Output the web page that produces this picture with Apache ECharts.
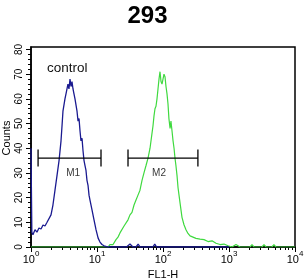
<!DOCTYPE html>
<html>
<head>
<meta charset="utf-8">
<script src="https://cdn.jsdelivr.net/npm/echarts@6/dist/echarts.min.js"></script>
<style>
html, body { margin: 0; padding: 0; background: #fff; }
#chart { width: 306px; height: 280px; }
</style>
</head>
<body>
<div id="chart"></div>
<script>
// control histogram (blue)
const controlX = [1, 1.03, 1.07, 1.15, 1.23, 1.32, 1.42, 1.52, 1.63, 1.75, 1.87, 2.01, 2.15, 2.31, 2.48,
  2.66, 2.85, 2.95, 3.05, 3.16, 3.27, 3.39, 3.51, 3.63, 3.76, 3.90, 4.04, 4.18, 4.33, 4.48,
  4.64, 4.81, 4.98, 5.16, 5.34, 5.53, 5.72, 5.93, 6.14, 6.36, 6.58, 6.81, 7.05, 7.31, 7.57,
  7.83, 8.40, 9.01, 9.66, 10.4, 11.1, 11.9, 12.8, 13.7, 14.7, 28, 31.6, 35, 39, 42,
  45, 70, 75, 80, 1000];
const controlY = [40, 6, 5, 7, 6, 7.7, 7.3, 8.9, 8.5, 10, 9.3, 13, 17, 23, 29,
  35, 43, 49, 55, 55, 60, 62, 64, 66, 64, 68, 65, 67, 64, 62,
  60, 60, 55, 51, 52, 47, 43, 44, 39, 35, 33, 31, 27, 25, 21,
  19, 15, 11, 7, 3.6, 2, 1, 0.5, 1, 0, 0, 1.2, 0, 0, 1.2,
  0, 0, 1.2, 0, 0];

// 293 sample histogram (green)
const sampleX = [1, 14.7, 15.7, 17.5, 19.4, 20.8, 22.3, 23.9, 25.7, 27.5, 29.5, 31.6, 33.9, 36.4, 39,
  41.8, 44.8, 48.1, 51.5, 55.3, 59.3, 63.6, 68.1, 70.5, 73, 75.6, 78.3, 81.1, 84, 87,
  90.1, 93.3, 96.6, 100, 103.5, 107.2, 111, 115, 119, 123, 128, 132, 137, 142, 147,
  152, 157, 163, 169, 181, 194, 208, 223, 239, 257, 285, 316, 364, 418, 481,
  553, 635, 731, 840, 965, 1110, 1276, 1468, 2080, 2230, 2390, 3160, 3390, 3640, 4470,
  4790, 5140, 10000];
const sampleY = [0, 0, 1, 1, 3, 4, 5.7, 6.5, 8.5, 9, 11, 13, 14, 17, 19,
  21, 23, 27, 30, 33, 36, 40, 46, 49, 53, 56, 57, 60, 64, 68,
  71, 67, 66, 68, 70, 69, 65, 62, 58, 52, 48, 51, 47, 43, 40,
  36, 33, 29, 24, 18, 12, 9, 7, 5.5, 4.5, 4, 3.5, 3.2, 3, 2.2,
  2.5, 1.5, 1, 1.2, 0.5, 0, 1, 0, 0, 1, 0, 0, 1, 0, 0,
  1, 0, 0];

// marker gates
const gateNames = ['M1', 'M2'];
const gateStart = [1.28, 29.5];
const gateEnd = [11.5, 338];
const gateLevel = 36;
const gateLabelX = [4.35, 87];
const gateLabelY = 30;

// ticks
const yTicks = [0, 10, 20, 30, 40, 50, 60, 70, 80];
const yMinor = [2, 4, 6, 8, 12, 14, 16, 18, 22, 24, 26, 28, 32, 34, 36, 38, 42, 44, 46, 48,
  52, 54, 56, 58, 62, 64, 66, 68, 72, 74, 76, 78];
const xMinor = [2, 3, 4, 5, 6, 7, 8, 9, 20, 30, 40, 50, 60, 70, 80, 90,
  200, 300, 400, 500, 600, 700, 800, 900, 2000, 3000, 4000, 5000, 6000, 7000, 8000, 9000];

const FONT = 'Liberation Sans, Arial, sans-serif';

const zip = (xs, ys) => xs.map((x, i) => [x, ys[i]]);

const gateSeries = gateNames.map((g, i) => ({
  name: g,
  type: 'line',
  data: [[gateStart[i], gateLevel], [gateEnd[i], gateLevel]],
  symbol: 'rect',
  symbolSize: [1.3, 17],
  showSymbol: true,
  itemStyle: { color: '#000' },
  lineStyle: { color: '#000', width: 1.3 },
  z: 4
}));

const chart = echarts.init(document.getElementById('chart'));
chart.setOption({
  animation: false,
  backgroundColor: '#fff',
  grid: {
    left: 31, right: 11, top: 47, bottom: 33,
    show: true, borderColor: '#000', borderWidth: 1.5,
    outerBoundsMode: 'none'
  },
  xAxis: [
    {
      type: 'log', logBase: 10, min: 1, max: 10000, position: 'bottom',
      axisLine: { lineStyle: { color: '#000', width: 1.5 } },
      axisTick: { length: 5, lineStyle: { color: '#000' } },
      splitLine: { show: false },
      axisLabel: {
        margin: 3,
        formatter: v => '{b|10}{s|' + Math.round(Math.log10(v)) + '}',
        rich: {
          b: { fontSize: 11, fontFamily: FONT, color: '#000', verticalAlign: 'bottom', lineHeight: 15 },
          s: { fontSize: 8, fontFamily: FONT, color: '#000', verticalAlign: 'top' }
        }
      },
      name: 'FL1-H', nameLocation: 'middle', nameGap: 20,
      nameTextStyle: { fontSize: 11, fontFamily: FONT, color: '#000' }
    },
    {
      type: 'log', logBase: 10, min: 1, max: 10000, position: 'bottom',
      axisLine: { show: false },
      axisTick: { length: 3, customValues: xMinor, lineStyle: { color: '#000' } },
      axisLabel: { show: false },
      splitLine: { show: false }
    }
  ],
  yAxis: [
    {
      type: 'value', min: 0, max: 81, position: 'left',
      axisLine: { show: true, lineStyle: { color: '#000', width: 1.5 } },
      axisTick: { show: true, length: 5, customValues: yTicks, lineStyle: { color: '#000' } },
      axisLabel: { customValues: yTicks, rotate: 90, fontSize: 10, fontFamily: FONT, color: '#000', margin: 7 },
      splitLine: { show: false }
    },
    {
      type: 'value', min: 0, max: 81, position: 'left',
      axisLine: { show: false },
      axisTick: { show: true, length: 3, customValues: yMinor, lineStyle: { color: '#000' } },
      axisLabel: { show: false },
      splitLine: { show: false }
    }
  ],
  graphic: [
    { type: 'text', x: 147.5, y: 16, style: { text: '293', font: 'bold 24px ' + FONT, fill: '#000', align: 'center', verticalAlign: 'middle' } },
    { type: 'text', x: 47, y: 68, style: { text: 'control', font: '13.5px ' + FONT, fill: '#111', align: 'left', verticalAlign: 'middle' } },
    { type: 'text', x: 7, y: 138, rotation: Math.PI / 2, style: { text: 'Counts', font: '11px ' + FONT, fill: '#000', align: 'center', verticalAlign: 'middle' } }
  ],
  series: [
    {
      name: '293', type: 'line', data: zip(sampleX, sampleY),
      showSymbol: false, lineStyle: { color: '#3fd93f', width: 1.2 }, z: 2
    },
    {
      name: 'control', type: 'line', data: zip(controlX, controlY),
      showSymbol: false, lineStyle: { color: '#1a1a90', width: 1.3 }, z: 3
    },
    ...gateSeries,
    {
      name: 'gate labels', type: 'scatter', symbolSize: 0,
      data: gateNames.map((g, i) => ({ name: g, value: [gateLabelX[i], gateLabelY] })),
      label: { show: true, position: 'inside', formatter: p => p.name, fontSize: 10, fontFamily: FONT, color: '#000' },
      z: 4
    }
  ]
});
</script>
</body>
</html>
